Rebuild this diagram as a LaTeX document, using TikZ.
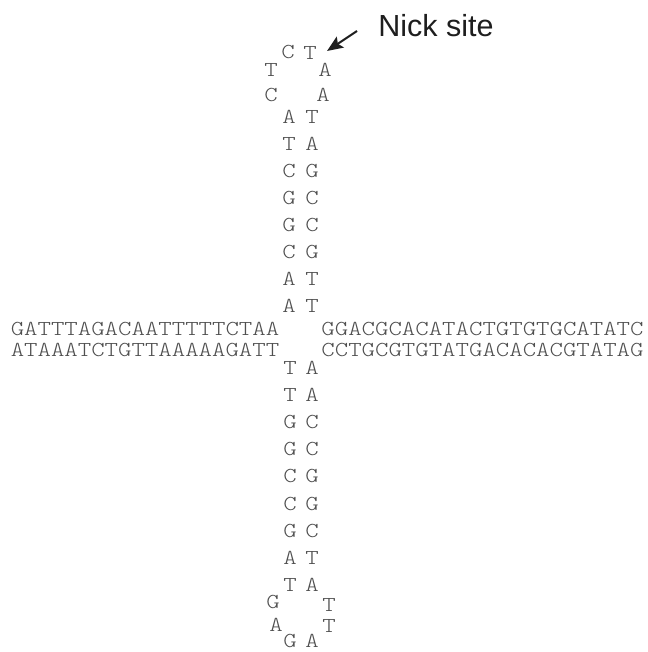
\documentclass[tikz,border=0pt]{standalone}
\usepackage{fontspec}
\usetikzlibrary{arrows.meta}
\newfontfamily\dnafont{lmmonolt10-regular.otf}[FakeStretch=1.2]
\newfontfamily\labelfont{Liberation Sans}
\definecolor{dnagray}{HTML}{4F4F4F}
\definecolor{inkblack}{HTML}{1E1E1E}
\tikzset{
  base/.style={font=\dnafont\fontsize{21.3}{24}\selectfont, text=dnagray, inner sep=0pt, text height=13pt, text depth=0pt, anchor=center},
  strand/.style={base},
  lbl/.style={font=\labelfont\fontsize{30.5}{34}\selectfont, text=inkblack, inner sep=0pt, anchor=base},
  pointer/.style={draw=inkblack, line width=2pt, -{Stealth[length=16pt,width=13pt,inset=3pt]}}
}
\begin{document}
\begin{tikzpicture}[x=1pt,y=-1pt]
\useasboundingbox (0,0) rectangle (647,652);
% top loop
\node[base] (tl1) at (288,52) {C};
\node[base] (tr1) at (310,53) {T};
\node[base] (tl2) at (271,70) {T};
\node[base] (tr2) at (325,70) {A};
\node[base] (tl3) at (271,95) {C};
\node[base] (tr3) at (323,95) {A};
% top stem
\foreach \l/\r [count=\k from 0] in {A/T,T/A,C/G,G/C,G/C,C/G,A/T,A/T}{
  \node[base] (ul\k) at (289,117+27*\k) {\l};
  \node[base] (ur\k) at (312,117+27*\k) {\r};
}
% horizontal arms
\node[strand] (arm1) at (145,329) {GATTTAGACAATTTTTCTAA};
\node[strand] (arm2) at (145,350) {ATAAATCTGTTAAAAAGATT};
\node[strand] (arm3) at (482.5,329) {GGACGCACATACTGTGTGCATATC};
\node[strand] (arm4) at (482.5,350) {CCTGCGTGTATGACACACGTATAG};
% bottom stem
\foreach \l/\r [count=\k from 0] in {T/A,T/A,G/C,G/C,C/G,C/G,G/C,A/T,T/A}{
  \node[base] (bl\k) at (290,368+27.1*\k) {\l};
  \node[base] (br\k) at (312,368+27.1*\k) {\r};
}
% bottom loop
\node[base] (gl1) at (273,602) {G};
\node[base] (gr1) at (329,605) {T};
\node[base] (gl2) at (276,625) {A};
\node[base] (gr2) at (329,626) {T};
\node[base] (gl3) at (290,641) {G};
\node[base] (gr3) at (312,641) {A};
% label and arrow
\node[lbl] (nick) at (436,37) {Nick site};
\coordinate (tail) at (357,31);
\coordinate (tip) at (327,51);
\draw[pointer] (tail) -- (tip);
\end{tikzpicture}
\end{document}
